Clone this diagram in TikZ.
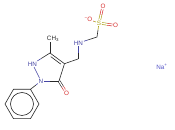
\documentclass[tikz,border=0pt]{standalone}
\usepackage{fontspec}
\setmainfont{Liberation Sans}
\usetikzlibrary{calc}
\definecolor{ncol}{RGB}{70,70,165}
\definecolor{ocol}{RGB}{215,45,45}
\definecolor{scol}{RGB}{175,165,30}
\definecolor{nacol}{RGB}{85,85,200}
\definecolor{bcol}{RGB}{40,40,40}
\begin{document}
\begin{tikzpicture}[x=1pt,y=-1pt,
  bond/.style={draw=bcol,line width=0.6pt},
  nbond/.style={draw=ncol,line width=0.6pt},
  obond/.style={draw=ocol,line width=0.6pt},
  sbond/.style={draw=scol,line width=0.6pt},
  dbl/.style={double=white,double distance=1.3pt},
  lab/.style={inner sep=0.7pt,font=\fontsize{6.3}{7}\selectfont},
  nlab/.style={lab,text=ncol},
  olab/.style={lab,text=ocol},
  slab/.style={lab,text=scol},
  clab/.style={lab,text=bcol}]
\fill[white] (0,0) rectangle (175,130);
\useasboundingbox (0,0) rectangle (175,130);
% atoms
\coordinate (c5) at (50,53);
\coordinate (c4) at (64.5,63.7);
\coordinate (c3) at (59,81);
\coordinate (ch2a) at (78,59);
\coordinate (ch2b) at (97,37);
\coordinate (p1) at (30.5,89.3);
\coordinate (p2) at (39,104);
\coordinate (p3) at (30.5,118.7);
\coordinate (p4) at (13.5,118.7);
\coordinate (p5) at (5,104);
\coordinate (p6) at (13.5,89.3);
\coordinate (pc) at (22,104);
\coordinate (db1) at (50.7,56.6);
\coordinate (db2) at (60.8,64.1);
\node[nlab] (n1) at (32.5,64) {HN};
\node[nlab] (n2) at (41,81) {N};
\node[clab] (me) at (53,38.5) {CH\textsubscript{3}};
\node[olab] (oc) at (66.5,93) {O};
\node[nlab] (hn2) at (78.5,43) {HN};
\node[slab] (s) at (99,23) {S};
\node[olab] (ot) at (103,6) {O};
\node[olab] (or) at (115.5,25.5) {O};
\node[olab] (om) at (88.5,19.5) {\raisebox{1.8pt}{\fontsize{4.5}{5}\selectfont −}O};
\node[lab,text=nacol] (na) at (162,67) {Na\textsuperscript{+}};
% double bonds first
\draw[bond,dbl] (c3) -- ($(c3)!.5!(oc)$);
\draw[obond,dbl] ($(c3)!.5!(oc)$) -- (oc);
\draw[sbond,dbl] (s) -- ($(s)!.5!(ot)$);
\draw[obond,dbl] ($(s)!.5!(ot)$) -- (ot);
\draw[sbond,dbl] (s) -- ($(s)!.5!(or)$);
\draw[obond,dbl] ($(s)!.5!(or)$) -- (or);
% pyrazolone ring
\draw[bond] (c5) -- (c4) -- (c3);
\draw[bond] (db1) -- (db2);
\draw[nbond] (n1) -- (n2);
\draw[nbond] (n1) -- ($(n1)!.5!(c5)$);
\draw[bond] ($(n1)!.5!(c5)$) -- (c5);
\draw[nbond] (n2) -- ($(n2)!.5!(c3)$);
\draw[bond] ($(n2)!.5!(c3)$) -- (c3);
\draw[bond] (c5) -- (me.south -| c5);
% phenyl
\draw[nbond] (n2) -- ($(n2)!.5!(p1)$);
\draw[bond] ($(n2)!.5!(p1)$) -- (p1);
\draw[bond] (p1) -- (p2) -- (p3) -- (p4) -- (p5) -- (p6) -- cycle;
\draw[bond] (pc) circle[radius=11.5];
% side chain
\draw[bond] (c4) -- (ch2a);
\draw[bond] (ch2a) -- ($(ch2a)!.5!(hn2.south -| ch2a)$);
\draw[nbond] ($(ch2a)!.5!(hn2.south -| ch2a)$) -- (hn2.south -| ch2a);
\draw[nbond] (hn2) -- ($(hn2)!.5!(ch2b)$);
\draw[bond] ($(hn2)!.5!(ch2b)$) -- (ch2b);
\draw[bond] (ch2b) -- ($(ch2b)!.5!(s)$);
\draw[sbond] ($(ch2b)!.5!(s)$) -- (s);
\draw[sbond] (s) -- ($(s)!.5!(om)$);
\draw[obond] ($(s)!.5!(om)$) -- (om);
\end{tikzpicture}
\end{document}
